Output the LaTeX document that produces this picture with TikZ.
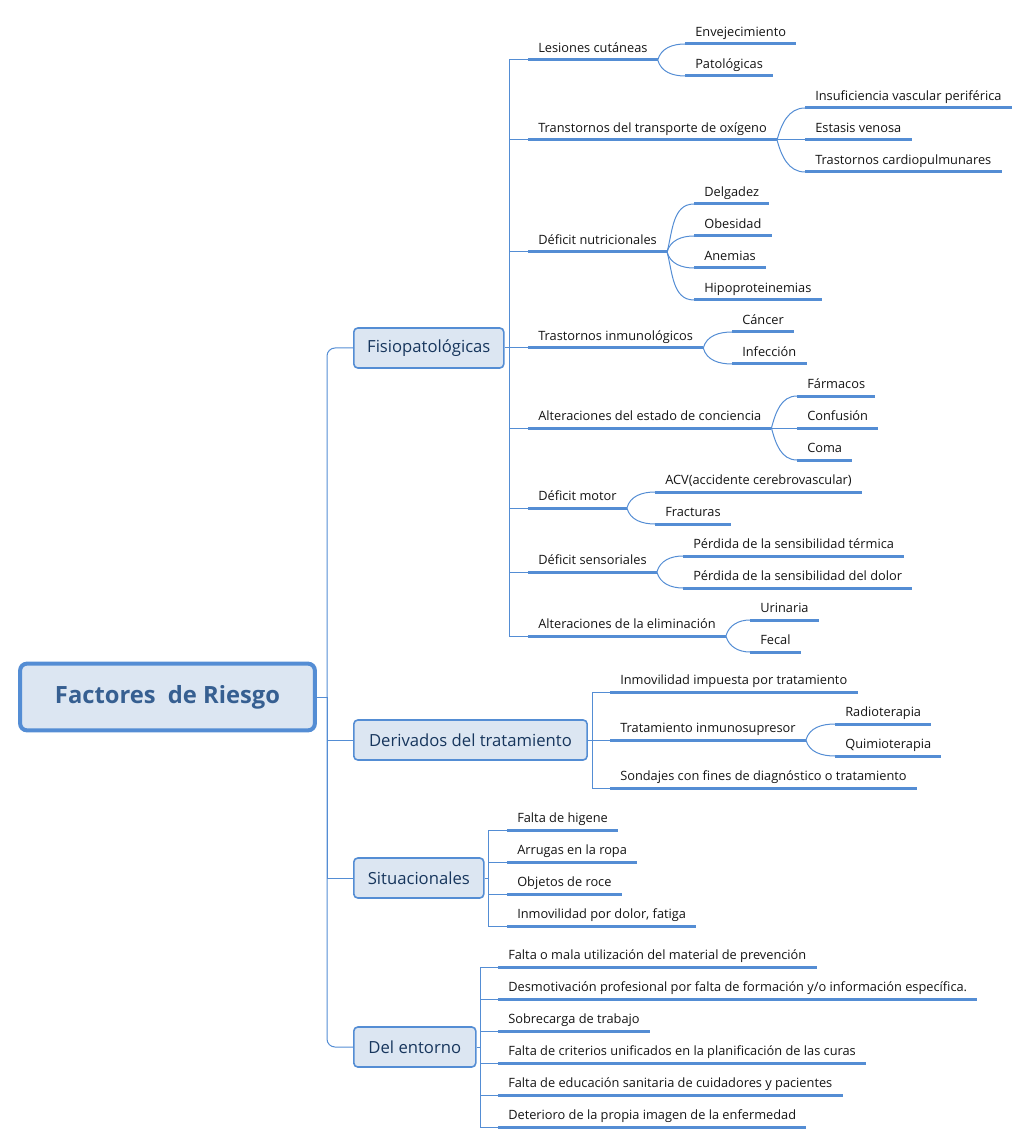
\documentclass[tikz,border=0pt]{standalone}
\usepackage{fontspec}
\setmainfont{Open Sans}
\usetikzlibrary{positioning}
\definecolor{mmblue}{RGB}{84,141,212}
\definecolor{mmfill}{RGB}{220,230,242}
\definecolor{roottext}{RGB}{54,95,145}
\definecolor{topictext}{RGB}{23,54,93}
\definecolor{leaftext}{RGB}{20,20,20}
\begin{document}
\begin{tikzpicture}[x=0.75pt, y=-0.75pt,
    root/.style={draw=mmblue, line width=3pt, fill=mmfill, rounded corners=5pt,
        minimum width=221pt, minimum height=50pt, text=roottext,
        font=\fontsize{17.8}{21}\selectfont\bfseries},
    topic/.style={draw=mmblue, line width=1.2pt, fill=mmfill, rounded corners=3pt,
        anchor=west, minimum height=30pt, text=topictext,
        font=\fontsize{12.5}{15}\selectfont},
    leaf/.style={anchor=south west, inner xsep=7.5pt, inner ysep=3.2pt,
        text depth=2.5pt, text=leaftext, font=\fontsize{9.6}{11.5}\selectfont,
        append after command={\pgfextra{\let\leafnode\tikzlastnode}
            (\leafnode.south west) edge[uline] (\leafnode.south east)}},
    uline/.style={draw=mmblue, line width=2.25pt},
    link/.style={draw=mmblue, line width=0.75pt},
    bendup/.style={out=75, in=180},
    benddown/.style={out=-75, in=180}]
\useasboundingbox (0,0) rectangle (1030,1144);

% central topic and main branches
\node[root] (root) at (167.5,697) {Factores\ \ de Riesgo};
\node[topic, minimum width=112.5pt] (fis) at (353,348) {Fisiopatológicas};
\node[topic, minimum width=175pt] (der) at (353,740) {Derivados del tratamiento};
\node[topic, minimum width=97.5pt] (sit) at (353,878) {Situacionales};
\node[topic, minimum width=91.5pt] (ent) at (353,1047) {Del entorno};

\coordinate (rT) at (327,697);
\draw[link] (root.east) -- (rT);
\draw[link, rounded corners=6pt] (rT) |- (fis.west);
\draw[link, rounded corners=6pt] (rT) |- (ent.west);
\draw[link] (rT) |- (der.west);
\draw[link] (rT) |- (sit.west);

% Fisiopatologicas
\node[leaf] (les) at (528,60) {Lesiones cutáneas};
\node[leaf] (tra) at (528,140) {Transtornos del transporte de oxígeno};
\node[leaf] (nut) at (528,252) {Déficit nutricionales};
\node[leaf] (inm) at (528,348) {Trastornos inmunológicos};
\node[leaf] (con) at (528,428) {Alteraciones del estado de conciencia};
\node[leaf] (mot) at (528,508) {Déficit motor};
\node[leaf] (sen) at (528,572) {Déficit sensoriales};
\node[leaf] (eli) at (528,636) {Alteraciones de la eliminación};

\coordinate (fT) at (509,348);
\draw[link] (fis.east) -- (fT);
\foreach \n in {les,tra,nut,inm,con,mot,sen,eli}
    \draw[link] (fT) |- (\n.south west);

\node[leaf] (env) at (685,44) {Envejecimiento};
\node[leaf] (pat) at (685,76) {Patológicas};
\node[leaf] (ins) at (805,108) {Insuficiencia vascular periférica};
\node[leaf] (est) at (805,140) {Estasis venosa};
\node[leaf] (car) at (805,172) {Trastornos cardiopulmunares};
\node[leaf] (del) at (694,204) {Delgadez};
\node[leaf] (obe) at (694,236) {Obesidad};
\node[leaf] (ane) at (694,268) {Anemias};
\node[leaf] (hip) at (694,300) {Hipoproteinemias};
\node[leaf] (can) at (732,332) {Cáncer};
\node[leaf] (inf) at (732,364) {Infección};
\node[leaf] (far) at (797,396) {Fármacos};
\node[leaf] (cnf) at (797,428) {Confusión};
\node[leaf] (com) at (797,460) {Coma};
\node[leaf] (acv) at (655,492) {ACV(accidente cerebrovascular)};
\node[leaf] (fra) at (655,524) {Fracturas};
\node[leaf] (ter) at (683,556) {Pérdida de la sensibilidad térmica};
\node[leaf] (dol) at (683,588) {Pérdida de la sensibilidad del dolor};
\node[leaf] (uri) at (750,620) {Urinaria};
\node[leaf] (fec) at (750,652) {Fecal};

\foreach \p/\c in {les/env,tra/ins,nut/del,nut/obe,inm/can,con/far,mot/acv,sen/ter,eli/uri}
    \draw[link] (\p.south east) to[bendup] (\c.south west);
\foreach \p/\c in {les/pat,tra/car,nut/ane,nut/hip,inm/inf,con/com,mot/fra,sen/dol,eli/fec}
    \draw[link] (\p.south east) to[benddown] (\c.south west);
\draw[link] (tra.south east) -- (est.south west);
\draw[link] (con.south east) -- (cnf.south west);

% Derivados del tratamiento
\node[leaf] (imp) at (610,692) {Inmovilidad impuesta por tratamiento};
\node[leaf] (tin) at (610,740) {Tratamiento inmunosupresor};
\node[leaf] (son) at (610,788) {Sondajes con fines de diagnóstico o tratamiento};
\node[leaf] (rad) at (835,724) {Radioterapia};
\node[leaf] (qui) at (835,756) {Quimioterapia};

\coordinate (dT) at (592,740);
\draw[link] (der.east) -- (dT);
\foreach \n in {imp,tin,son}
    \draw[link] (dT) |- (\n.south west);
\draw[link] (tin.south east) to[bendup] (rad.south west);
\draw[link] (tin.south east) to[benddown] (qui.south west);

% Situacionales
\node[leaf] (hig) at (507,830) {Falta de higene};
\node[leaf] (arr) at (507,862) {Arrugas en la ropa};
\node[leaf] (obj) at (507,894) {Objetos de roce};
\node[leaf] (ido) at (507,926) {Inmovilidad por dolor, fatiga};

\coordinate (sT) at (488,878);
\draw[link] (sit.east) -- (sT);
\foreach \n in {hig,arr,obj,ido}
    \draw[link] (sT) |- (\n.south west);

% Del entorno
\node[leaf] (mat) at (498,967) {Falta o mala utilización del material de prevención};
\node[leaf] (des) at (498,999) {Desmotivación profesional por falta de formación y/o información específica.};
\node[leaf] (sob) at (498,1031) {Sobrecarga de trabajo};
\node[leaf] (cri) at (498,1063) {Falta de criterios unificados en la planificación de las curas};
\node[leaf] (edu) at (498,1095) {Falta de educación sanitaria de cuidadores y pacientes};
\node[leaf] (det) at (498,1127) {Deterioro de la propia imagen de la enfermedad};

\coordinate (eT) at (480,1047);
\draw[link] (ent.east) -- (eT);
\foreach \n in {mat,des,sob,cri,edu,det}
    \draw[link] (eT) |- (\n.south west);
\end{tikzpicture}
\end{document}
